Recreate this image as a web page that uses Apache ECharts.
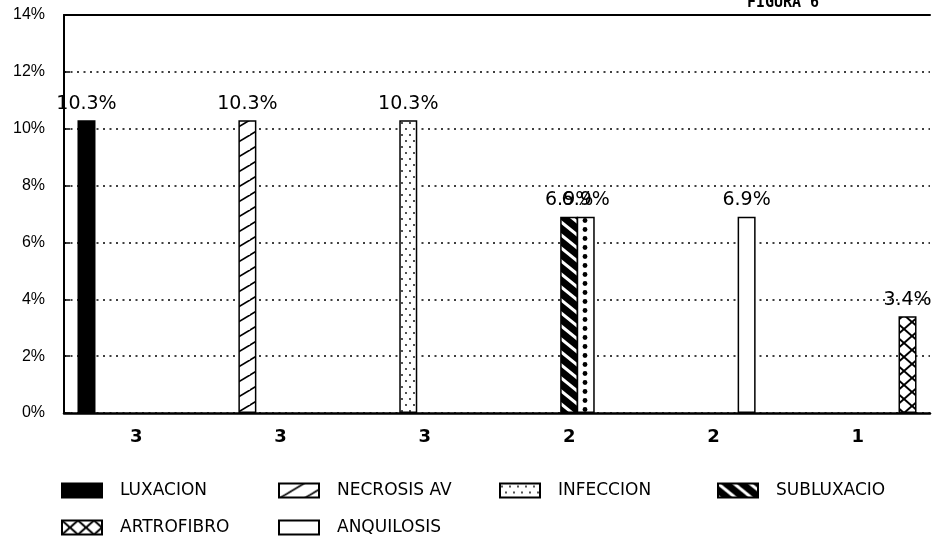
<!DOCTYPE html>
<html>
<head>
<meta charset="utf-8">
<script src="https://cdn.jsdelivr.net/npm/echarts/dist/echarts.min.js"></script>
<style>
html,body{margin:0;padding:0;background:#fff;}
#chart{width:938px;height:542px;}
</style>
</head>
<body>
<div id="chart"></div>
<script>
// ---- data ----
const categories = ['3', '3', '3', '2', '2', '1'];
const luxacion   = [10.3, null, null, null, null, null];
const necrosisAV = [null, 10.3, null, null, null, null];
const infeccion  = [null, null, 10.3, null, null, null];
const subluxacio = [null, null, null, 6.9, null, null];
const punteado   = [null, null, null, 6.9, null, null];
const anquilosis = [null, null, null, null, 6.9, null];
const artrofibro = [null, null, null, null, null, 3.4];
const yMin = 0, yMax = 14, yStep = 2;
const titleText = 'FIGURA 6';

// ---- fill patterns ----
function tile(w, h, bg) {
  const c = document.createElement('canvas');
  c.width = w; c.height = h;
  const ctx = c.getContext('2d');
  ctx.fillStyle = bg; ctx.fillRect(0, 0, w, h);
  return [c, ctx];
}
function lines(ctx, w, h, dir, lw, color) {
  ctx.strokeStyle = color; ctx.lineWidth = lw;
  for (let m = -3; m <= 3; m++) {
    ctx.beginPath();
    if (dir === '\\') { ctx.moveTo(m * w - w, -h); ctx.lineTo(m * w + 2 * w, 2 * h); }
    else { ctx.moveTo(m * w - w, h); ctx.lineTo(m * w + 2 * w, -2 * h); }
    ctx.stroke();
  }
}
function pat(c) { return { image: c, repeat: 'repeat' }; }

const fills = {};
fills.solid = '#000';
(function () { const [c, ctx] = tile(25, 15, '#fff'); lines(ctx, 25, 15, '/', 1.6, '#000'); fills.hatch = pat(c); })();
(function () {
  const [c, ctx] = tile(8, 12, '#fff'); ctx.fillStyle = '#000';
  ctx.beginPath(); ctx.arc(2, 3, 0.9, 0, Math.PI * 2); ctx.fill();
  ctx.beginPath(); ctx.arc(6, 9, 0.9, 0, Math.PI * 2); ctx.fill();
  fills.fineDots = pat(c);
})();
(function () { const [c, ctx] = tile(16, 13, '#000'); lines(ctx, 16, 13, '\\', 3, '#fff'); fills.heavy = pat(c); })();
(function () {
  const [c, ctx] = tile(18, 9, '#fff'); ctx.fillStyle = '#000';
  ctx.beginPath(); ctx.arc(9, 4.5, 2.4, 0, Math.PI * 2); ctx.fill();
  fills.bigDots = pat(c);
})();
(function () { const [c, ctx] = tile(16, 14, '#fff'); lines(ctx, 16, 14, '/', 2, '#000'); lines(ctx, 16, 14, '\\', 2, '#000'); fills.cross = pat(c); })();
fills.empty = '#fff';

const defs = [
  { name: 'LUXACION', data: luxacion, fill: fills.solid },
  { name: 'NECROSIS AV', data: necrosisAV, fill: fills.hatch },
  { name: 'INFECCION', data: infeccion, fill: fills.fineDots },
  { name: 'SUBLUXACIO', data: subluxacio, fill: fills.heavy },
  { name: 'OTRO', data: punteado, fill: fills.bigDots },
  { name: 'ANQUILOSIS', data: anquilosis, fill: fills.empty },
  { name: 'ARTROFIBRO', data: artrofibro, fill: fills.cross }
];

const series = defs.map(d => ({
  type: 'bar',
  name: d.name,
  data: d.data,
  barWidth: 18,
  barGap: '-8%',
  itemStyle: { color: d.fill, borderColor: '#000', borderWidth: 1.5 },
  emphasis: { disabled: true },
  label: {
    show: true, position: 'top', distance: 7,
    color: '#000', fontFamily: 'DejaVu Sans', fontSize: 19,
    formatter: p => (p.value == null ? '' : Number(p.value).toFixed(1) + '%')
  }
}));

const legendTextStyle = { color: '#000', fontFamily: 'DejaVu Sans', fontSize: 17, padding: [0, 0, 0, 13] };
function leg(name, left, top) {
  return { data: [name], left: left, top: top, padding: 0, itemWidth: 40, itemHeight: 14,
           icon: 'rect', selectedMode: false, textStyle: legendTextStyle };
}

const option = {
  animation: false,
  backgroundColor: '#fff',
  grid: { left: 64, right: 8, top: 15, bottom: 129, containLabel: false, outerBoundsMode: 'none' },
  graphic: [{
    type: 'text', x: 783, y: 11,
    style: { text: titleText, font: 'bold 15px "DejaVu Sans Mono"', fill: '#000', align: 'center', verticalAlign: 'bottom' }
  }],
  legend: [
    leg('LUXACION', 61, 482),
    leg('NECROSIS AV', 278, 482),
    leg('INFECCION', 499, 482),
    leg('SUBLUXACIO', 717, 482),
    leg('ARTROFIBRO', 61, 519),
    leg('ANQUILOSIS', 278, 519)
  ],
  xAxis: [
    {
      type: 'category', data: categories, position: 'bottom',
      axisLine: { lineStyle: { color: '#000', width: 2.5 } },
      axisTick: { show: false },
      axisLabel: { color: '#000', fontFamily: 'DejaVu Sans', fontWeight: 'bold', fontSize: 18, margin: 15 },
      splitLine: { show: false }
    },
    {
      type: 'category', data: categories, position: 'top',
      axisLine: { show: true, lineStyle: { color: '#000', width: 2 } },
      axisTick: { show: false }, axisLabel: { show: false }, splitLine: { show: false }
    }
  ],
  yAxis: {
    type: 'value', min: yMin, max: yMax, interval: yStep,
    axisLine: { show: true, lineStyle: { color: '#000', width: 2 } },
    axisTick: { show: true, inside: true, length: 6, lineStyle: { color: '#000', width: 1.5 } },
    axisLabel: { color: '#000', fontFamily: 'Liberation Sans', fontSize: 16, margin: 19, formatter: '{value}%' },
    splitLine: { show: true, lineStyle: { color: '#000', width: 1.5, type: [2, 4.5] } }
  },
  series: series
};

const chart = echarts.init(document.getElementById('chart'), null, { renderer: 'canvas' });
chart.setOption(option);
</script>
</body>
</html>
